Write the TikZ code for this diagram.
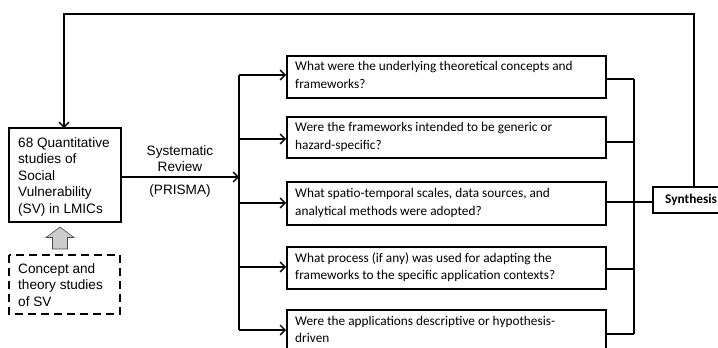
\documentclass[tikz,border=0pt]{standalone}
\usepackage{fontspec}
\setmainfont{Liberation Sans}
\newfontfamily\qfont{Carlito}
\usetikzlibrary{arrows.meta}
\tikzset{
  qbox/.style={anchor=north west, align=left, font=\qfont\fontsize{13.3}{17.5}\selectfont, inner sep=0pt},
  boxline/.style={line width=1.8pt},
  conn/.style={line width=1.4pt},
  arr/.style={line width=1.4pt, -{Straight Barb[length=5pt,width=10pt,line width=1.4pt]}},
  coll/.style={line width=1.2pt},
  svtext/.style={align=left, anchor=north west, inner sep=0pt, font=\fontsize{13.6}{16.6}\selectfont},
}
\begin{document}
\begin{tikzpicture}[x=1pt,y=-1pt]
\useasboundingbox (0,0) rectangle (718,348);
% left box
\draw[boxline] (9,128) rectangle (121,222);
\node[svtext] (sv) at (18,137) {68 Quantitative\\studies of\\Social\\Vulnerability\\(SV) in LMICs};
\coordinate (svE) at (121,177);
\coordinate (svN) at (64,128);
% concept box
\draw[boxline, dash pattern=on 8pt off 5pt] (9,255) rectangle (120,314);
\node[svtext] (cs) at (18,263) {Concept and\\theory studies\\of SV};
% block arrow
\draw[line width=0.6pt, fill=gray!40, draw=gray!60!black] (60,227) -- (74,237.5) -- (67.5,237.5) -- (67.5,249) -- (52.5,249) -- (52.5,237.5) -- (46,237.5) -- cycle;
% systematic review label
\node[align=center, inner sep=0pt, font=\fontsize{13.6}{16}\selectfont] (sr) at (180,159) {Systematic\\Review};
\node[inner sep=0pt, font=\fontsize{13.6}{16}\selectfont] (pr) at (180,191) {(PRISMA)};
% bar
\coordinate (barT) at (239,75);
\coordinate (barB) at (239,330);
\coordinate (barM) at (239,177);
\draw[conn] (barT) -- (barB);
\draw[arr] (svE) -- (barM);
% question boxes
\draw[boxline] (287,56) rectangle (606,98);
\node[qbox] (q1) at (295,61.5) {What were the underlying theoretical concepts and\\frameworks?};
\draw[boxline] (287,117) rectangle (606,158);
\node[qbox] (q2) at (295,122.5) {Were the frameworks intended to be generic or\\hazard-specific?};
\draw[boxline] (287,182) rectangle (606,225);
\node[qbox] (q3) at (295,188.5) {What spatio-temporal scales, data sources, and\\analytical methods were adopted?};
\draw[boxline] (287,247) rectangle (606,289);
\node[qbox] (q4) at (295,252.5) {What process (if any) was used for adapting the\\frameworks to the specific application contexts?};
\draw[boxline] (287,310) rectangle (606,356);
\node[qbox] (q5) at (295,316) {Were the applications descriptive or hypothesis-\\driven};
% arrows to boxes
\coordinate (a1) at (286,75);
\coordinate (a2) at (286,139);
\coordinate (a3) at (286,203);
\coordinate (a4) at (286,267);
\coordinate (a5) at (286,330);
\foreach \n in {1,...,5} { \draw[arr] (barT |- a\n) -- (a\n); }
% collector
\coordinate (c1) at (606,79);
\coordinate (c2) at (606,142);
\coordinate (c3) at (606,202);
\coordinate (c4) at (606,269);
\coordinate (c5) at (606,334);
\coordinate (colT) at (634,79);
\coordinate (colB) at (634,334);
\draw[coll] (colT) -- (colB);
\foreach \n in {1,...,5} { \draw[coll] (c\n) -- (colT |- c\n); }
% synthesis
\draw[boxline] (653,187) rectangle (724,213);
\node[anchor=west, inner sep=0pt, font=\qfont\bfseries\fontsize{13.3}{15}\selectfont] (syn) at (665,200) {Synthesis};
\coordinate (synW) at (653,202);
\draw[coll] (colT |- synW) -- (synW);
% feedback loop
\coordinate (fb) at (694,187);
\draw[line width=1.6pt, -{Straight Barb[length=5pt,width=10pt,line width=1.4pt]}] (fb) -- (694,14) -- (64,14) -- (svN);
\end{tikzpicture}
\end{document}
